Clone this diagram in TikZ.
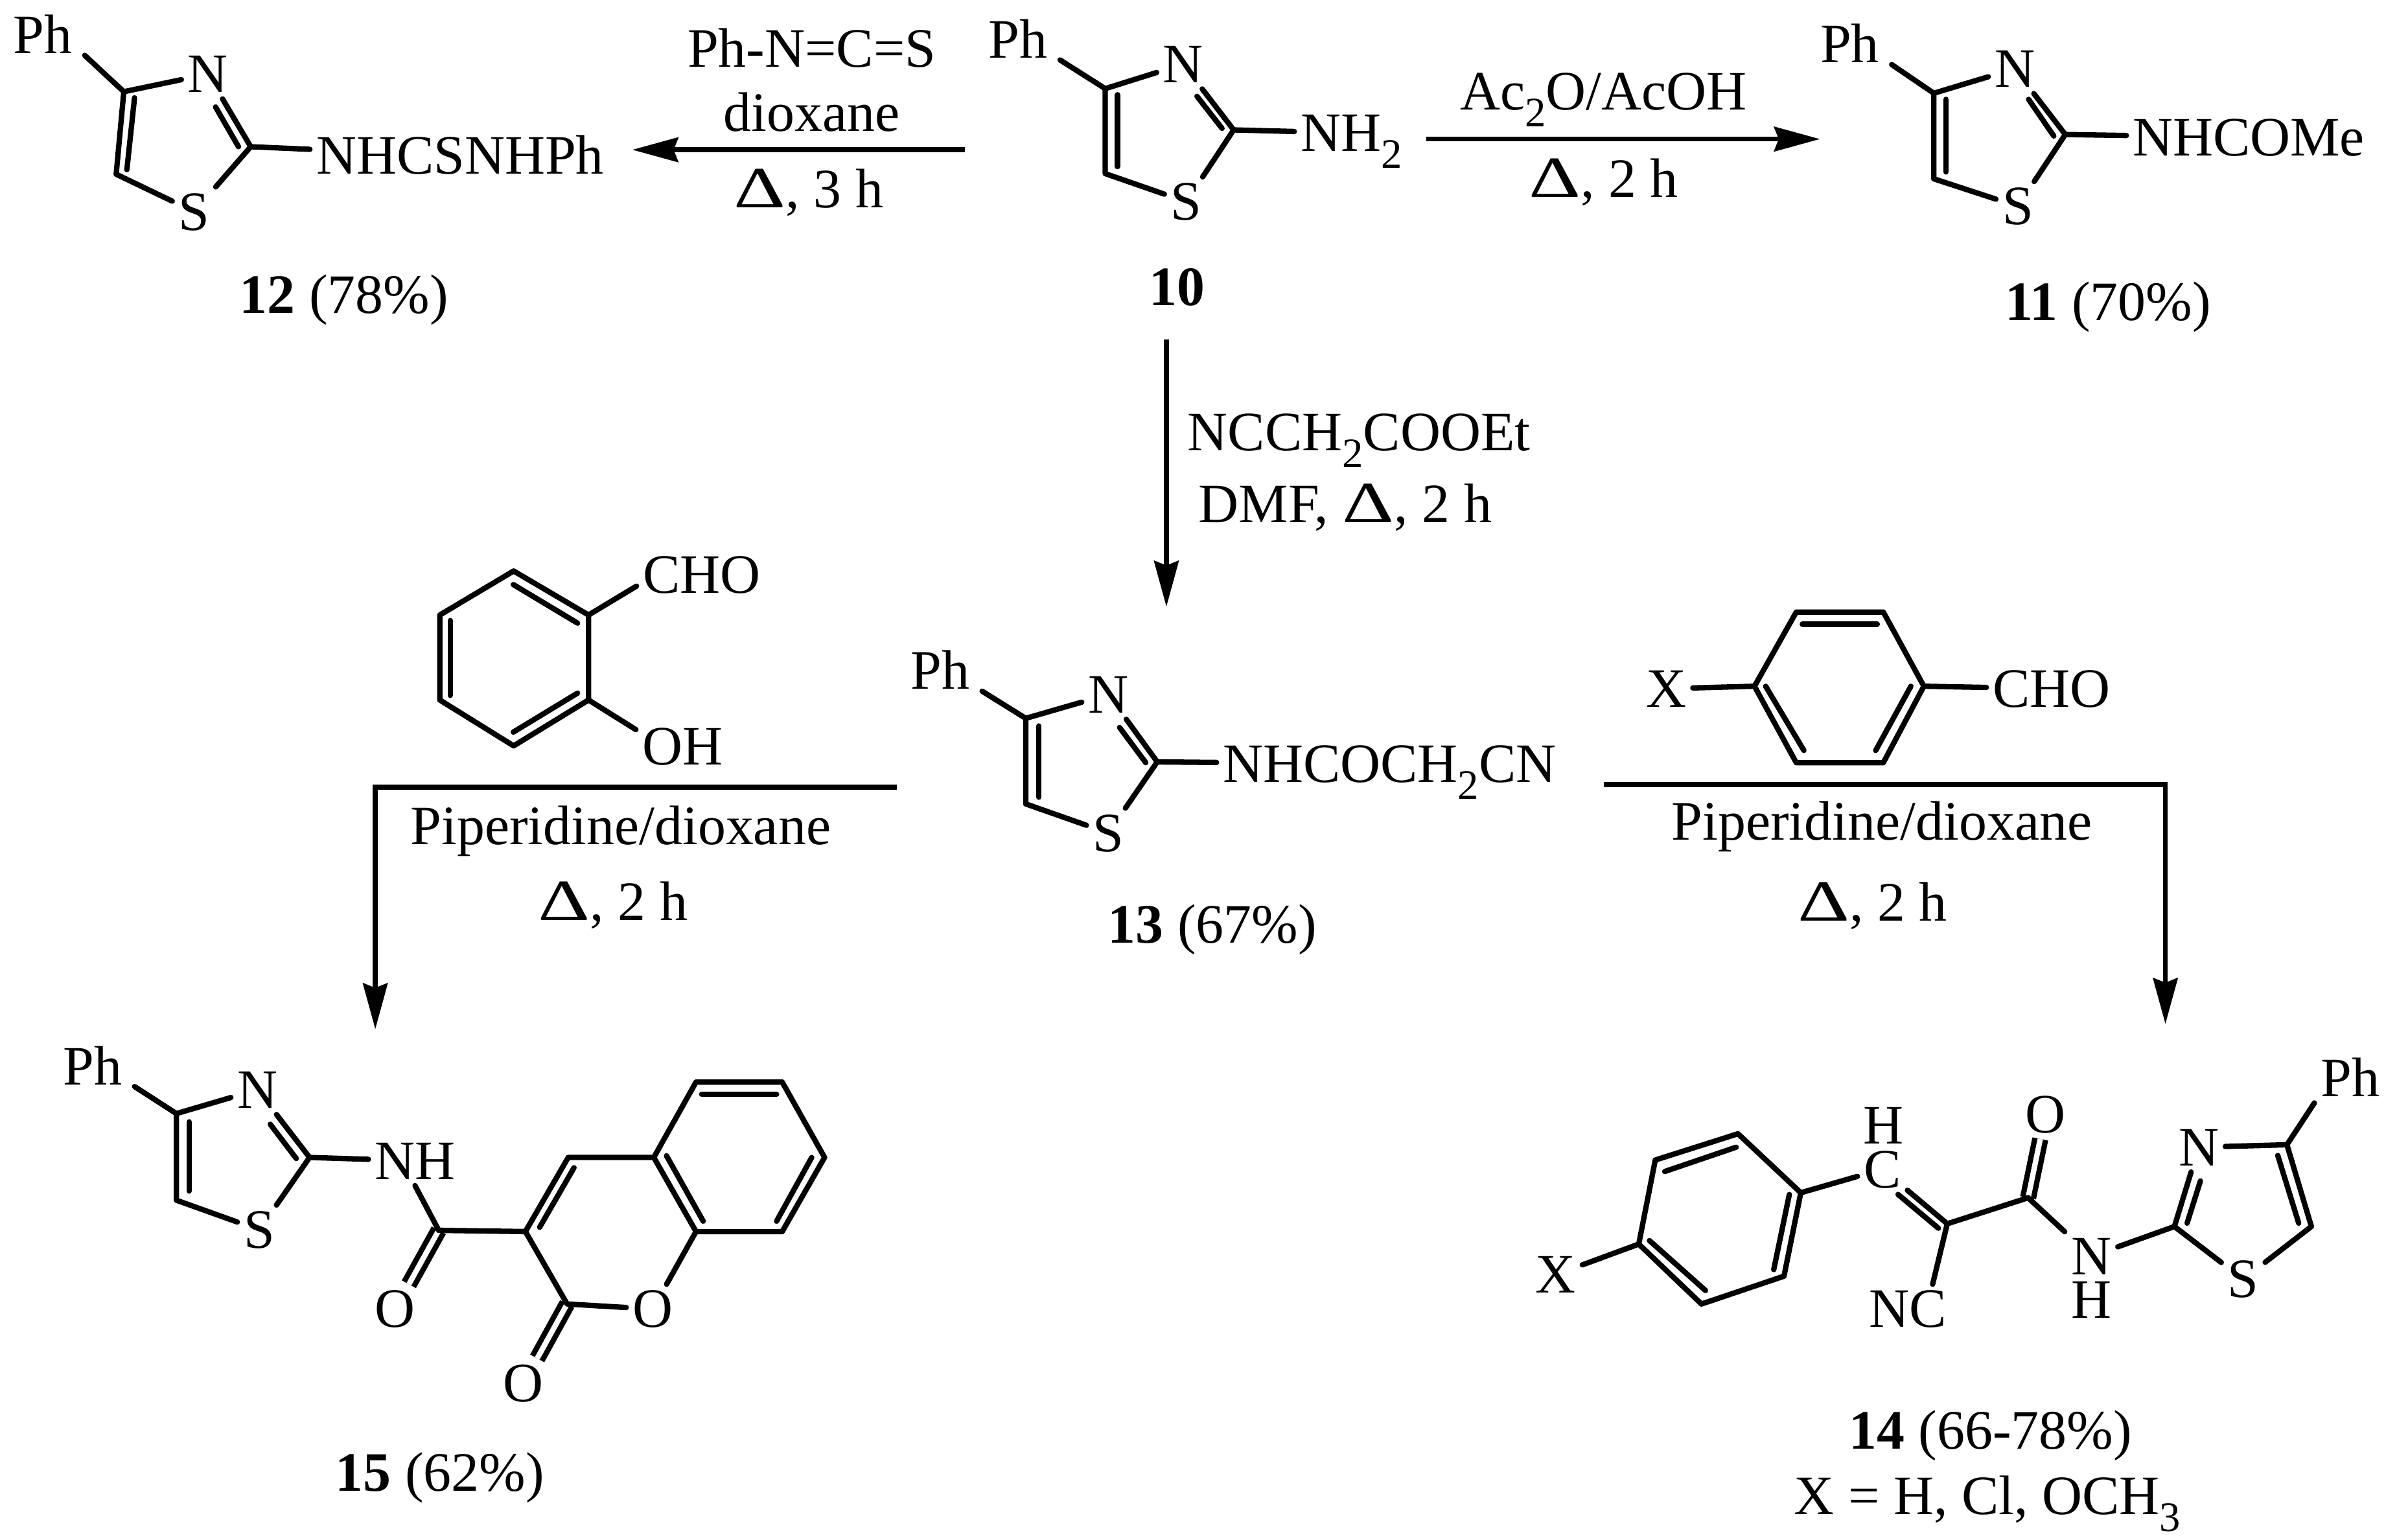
\documentclass[tikz,border=0pt]{standalone}
\usepackage{fontspec}
\usepackage{graphicx}
\setmainfont{Liberation Serif}
\usetikzlibrary{arrows.meta}
\newcommand{\heat}{\scalebox{1.45}[1.05]{Δ}}
\newcommand{\idx}[1]{\raisebox{-0.3em}{\fontsize{7.8}{8}\selectfont #1}}
\tikzset{
  bond/.style={line width=1pt, line cap=round, line join=round},
  dbl/.style={line width=1pt, double, double distance=1pt},
  rxn/.style={-{Stealth[length=3mm,width=1.6mm,inset=0.3mm]}, line width=0.9pt},
  atom/.style={font=\fontsize{10.35}{12}\selectfont, inner sep=1pt, text height=0.24cm, text depth=0pt}
}

\begin{document}
\begin{tikzpicture}[x=0.01cm, y=-0.01cm]
\useasboundingbox (0,0) rectangle (1568,1007.2);
% соединение 12
\coordinate (c4a) at (81,60);
\coordinate (c5a) at (76,114);
\coordinate (c2a) at (164,96);
\node [atom] (pha) at (28,23) {Ph};
\node [atom] (na) at (136,48.5) {N};
\node [atom] (sa) at (127,138.5) {S};
\node [atom] (ra) at (301,102) {NHCSNHPh};
\draw [bond] ([shift={(4,-3)}]pha.south east) -- (c4a) -- (na);
\draw [bond] (c4a) -- (c5a) -- (sa);
\draw [bond] (sa) -- (c2a) -- (na);
\draw [bond] (c2a) -- (ra);
\draw [bond] (88,64) -- (83,111);
\draw [bond] (141,70) -- (156,96);
\node [atom] (nama) at (225,193) {\textbf{12} (78\%)};
% соединение 10
\coordinate (c4b) at (723,58);
\coordinate (c5b) at (723,113.6);
\coordinate (c2b) at (807,85);
\node [atom] (phb) at (666,26) {Ph};
\node [atom] (nb) at (774,42) {N};
\node [atom] (sb) at (776,132) {S};
\node [atom] (rb) at (884,87) {NH\idx{2}};
\draw [bond] ([shift={(4,-3)}]phb.south east) -- (c4b) -- (nb);
\draw [bond] (c4b) -- (c5b) -- (sb);
\draw [bond] (sb) -- (c2b) -- (nb);
\draw [bond] (c2b) -- (rb);
\draw [bond] (731,62) -- (731,109);
\draw [bond] (783,63) -- (799.4,84);
\node [atom] (namb) at (770,188) {\textbf{10}};
% соединение 11
\coordinate (c4c) at (1265,61);
\coordinate (c5c) at (1265,117);
\coordinate (c2c) at (1351,88);
\node [atom] (phc) at (1210,29) {Ph};
\node [atom] (nc) at (1318,45) {N};
\node [atom] (sc) at (1320,135) {S};
\node [atom] (rc) at (1471,90) {NHCOMe};
\draw [bond] ([shift={(4,-3)}]phc.south east) -- (c4c) -- (nc);
\draw [bond] (c4c) -- (c5c) -- (sc);
\draw [bond] (sc) -- (c2c) -- (nc);
\draw [bond] (c2c) -- (rc);
\draw [bond] (1273,65) -- (1273,112.5);
\draw [bond] (1327,65) -- (1343.5,89);
\node [atom] (namc) at (1379,197.5) {\textbf{11} (70\%)};
% соединение 13
\coordinate (c4d) at (671,470);
\coordinate (c5d) at (671,526);
\coordinate (c2d) at (757,498.5);
\node [atom] (phd) at (615,439) {Ph};
\node [atom] (nd) at (725,454.4) {N};
\node [atom] (sd) at (725,545) {S};
\node [atom] (rd) at (909,500) {NHCOCH\idx{2}CN};
\draw [bond] ([shift={(4,-3)}]phd.south east) -- (c4d) -- (nd);
\draw [bond] (c4d) -- (c5d) -- (sd);
\draw [bond] (sd) -- (c2d) -- (nd);
\draw [bond] (c2d) -- (rd);
\draw [bond] (679.5,475) -- (679.5,521.6);
\draw [bond] (732.4,476) -- (749.5,499);
\node [atom] (namd) at (793,605) {\textbf{13} (67\%)};
% салициловый альдегид
\node [atom] (cho1) at (459,376) {CHO};
\node [atom] (oh1) at (446.5,488.5) {OH};
\coordinate (b1) at (336,373.6);
\coordinate (b2) at (385,402.4);
\coordinate (b3) at (385,458);
\coordinate (b4) at (336,488);
\coordinate (b5) at (287.7,458);
\coordinate (b6) at (287.7,402.4);
\draw [bond] (b1) -- (b2) -- (b3) -- (b4) -- (b5) -- (b6) -- cycle;
\draw [bond] (b2) -- (cho1.190);
\draw [bond] (b3) -- (oh1.160);
\draw [bond] (335.8,382.5) -- (377.8,407.7);
\draw [bond] (294.5,406) -- (294.5,455);
\draw [bond] (335.8,479) -- (377.8,453.5);
% замещенный бензальдегид
\node [atom] (xe) at (1090,450.6) {X};
\node [atom] (cho2) at (1342,450.6) {CHO};
\coordinate (e1) at (1175,400.5);
\coordinate (e2) at (1232,400.5);
\coordinate (e3) at (1258.5,449);
\coordinate (e4) at (1232,499);
\coordinate (e5) at (1175,499);
\coordinate (e6) at (1147.7,449);
\draw [bond] (e1) -- (e2) -- (e3) -- (e4) -- (e5) -- (e6) -- cycle;
\draw [bond] (e6) -- (xe);
\draw [bond] (e3) -- (cho2);
\draw [bond] (1179,408.4) -- (1228,408.4);
\draw [bond] (1155,449) -- (1180,491);
\draw [bond] (1250,449) -- (1227,491);
% соединение 15
\coordinate (c4f) at (115.4,728.6);
\coordinate (c5f) at (115.4,785.3);
\coordinate (c2f) at (202.5,757.3);
\coordinate (cof) at (287,805);
\coordinate (k3) at (343.7,805.8);
\coordinate (k2) at (371,853.2);
\coordinate (k4) at (371.7,757.3);
\coordinate (k4a) at (427.7,757.3);
\coordinate (k5) at (455.3,708);
\coordinate (k6) at (511.7,708);
\coordinate (k7) at (539.4,757.3);
\coordinate (k8) at (511.7,805.8);
\coordinate (k8a) at (455.3,805.8);
\node [atom] (phf) at (60.6,697.7) {Ph};
\node [atom] (nf) at (168.4,713) {N};
\node [atom] (sf) at (169.6,804.7) {S};
\node [atom] (nhf) at (271.5,759.5) {NH};
\node [atom] (o1f) at (258.5,856.5) {O};
\node [atom] (o2f) at (427,856.5) {O};
\node [atom] (o3f) at (342.5,905) {O};
\draw [dbl] (cof) -- (o1f);
\draw [dbl] (k2) -- (o3f);
\draw [bond] ([shift={(4,-3)}]phf.south east) -- (c4f) -- (nf);
\draw [bond] (c4f) -- (c5f) -- (sf);
\draw [bond] (sf) -- (c2f) -- (nf);
\draw [bond] (c2f) -- (nhf);
\draw [bond] (nhf.south) -- (cof) -- (k3) -- (k2) -- (o2f);
\draw [bond] (k3) -- (k4) -- (k4a) -- (k5) -- (k6) -- (k7) -- (k8) -- (k8a) -- (k4a);
\draw [bond] (k8a) -- (o2f);
\draw [bond] (123.8,734) -- (123.8,779.3);
\draw [bond] (176.8,735.6) -- (193.8,758);
\draw [bond] (353,803) -- (375.5,764);
\draw [bond] (436,756.2) -- (460,799);
\draw [bond] (459,716) -- (508,716);
\draw [bond] (531,757.3) -- (508,799);
\node [atom] (namf) at (287.7,963.5) {\textbf{15} (62\%)};
% соединение 14
\coordinate (g1) at (1136.9,741.8);
\coordinate (g2) at (1082.8,759);
\coordinate (g3) at (1072,814);
\coordinate (g4) at (1113,853.2);
\coordinate (g5) at (1167,835);
\coordinate (g6) at (1178,780.4);
\coordinate (ccn) at (1273.8,800.7);
\coordinate (cog) at (1326.7,783.7);
\coordinate (c2g) at (1422.4,802.5);
\coordinate (c4g) at (1496,749);
\coordinate (c5g) at (1512,802.5);
\node [atom] (xg) at (1017.7,834) {X};
\node [atom] (cg) at (1231.4,765) {C};
\node [atom] (hg) at (1232,736.3) {H};
\node [atom] (ncg) at (1248,856.5) {NC};
\node [atom] (og) at (1338,729) {O};
\node [atom] (ng) at (1368,822) {N};
\node [atom] (h2g) at (1368.3,850.6) {H};
\node [atom] (n2g) at (1438.3,750.6) {N};
\node [atom] (sg) at (1467.4,837) {S};
\node [atom] (phg) at (1537.4,705.4) {Ph};
\draw [dbl] (cog) -- (og);
\draw [bond] (g1) -- (g2) -- (g3) -- (g4) -- (g5) -- (g6) -- cycle;
\draw [bond] (g3) -- (xg);
\draw [bond] (g6) -- (cg);
\draw [bond] (cg) -- (ccn) -- (cog) -- (ng);
\draw [bond] (ccn) -- (ncg.45);
\draw [bond] (ng) -- (c2g) -- (n2g);
\draw [bond] (c2g) -- (sg);
\draw [bond] (n2g) -- (c4g) -- (c5g) -- (sg);
\draw [bond] (c4g) -- (phg.south west);
\draw [bond] (1135.7,750.6) -- (1089,766.5);
\draw [bond] (1079,811.7) -- (1115.7,844.4);
\draw [bond] (1160.3,830.7) -- (1170.5,781.5);
\draw [bond] (1241.6,781.5) -- (1268,803.6);
\draw [bond] (1430.7,800.3) -- (1439.4,772.7);
\draw [bond] (1490,756) -- (1503.7,800.3);
\node [atom] (namg) at (1302,936) {\textbf{14} (66-78\%)};
\node [atom] (xval) at (1300,979) {X = H, Cl, OCH\idx{3}};
% стрелки
\coordinate (a1s) at (631,98);
\coordinate (a1e) at (413.6,98);
\coordinate (a2s) at (933,91);
\coordinate (a2e) at (1190.6,91);
\coordinate (a3s) at (763,222);
\coordinate (a3e) at (763,397);
\coordinate (a4s) at (586.7,515);
\coordinate (a4e) at (245.5,673.4);
\coordinate (a5s) at (1049,513.4);
\coordinate (a5e) at (1416.5,670);
\draw [rxn] (a1s) -- (a1e);
\draw [rxn] (a2s) -- (a2e);
\draw [rxn] (a3s) -- (a3e);
\draw [rxn] (a4s) -| (a4e);
\draw [rxn] (a5s) -| (a5e);
% подписи
\node [atom] (t1) at (531,32) {Ph-N=C=S};
\node [atom] (t2) at (531,74) {dioxane};
\node [atom] (t3) at (529,124) {\heat, 3 h};
\node [atom] (t4) at (1049,60) {Ac\idx{2}O/AcOH};
\node [atom] (t5) at (1049,117) {\heat, 2 h};
\node [atom] (t6) at (889,283) {NCCH\idx{2}COOEt};
\node [atom] (t7) at (880,330) {DMF, \heat, 2 h};
\node [atom] (t8) at (406,540.5) {Piperidine/dioxane};
\node [atom] (t9) at (401,590) {\heat, 2 h};
\node [atom] (t10) at (1231,537.7) {Piperidine/dioxane};
\node [atom] (t11) at (1225,590.6) {\heat, 2 h};
\end{tikzpicture}
\end{document}
